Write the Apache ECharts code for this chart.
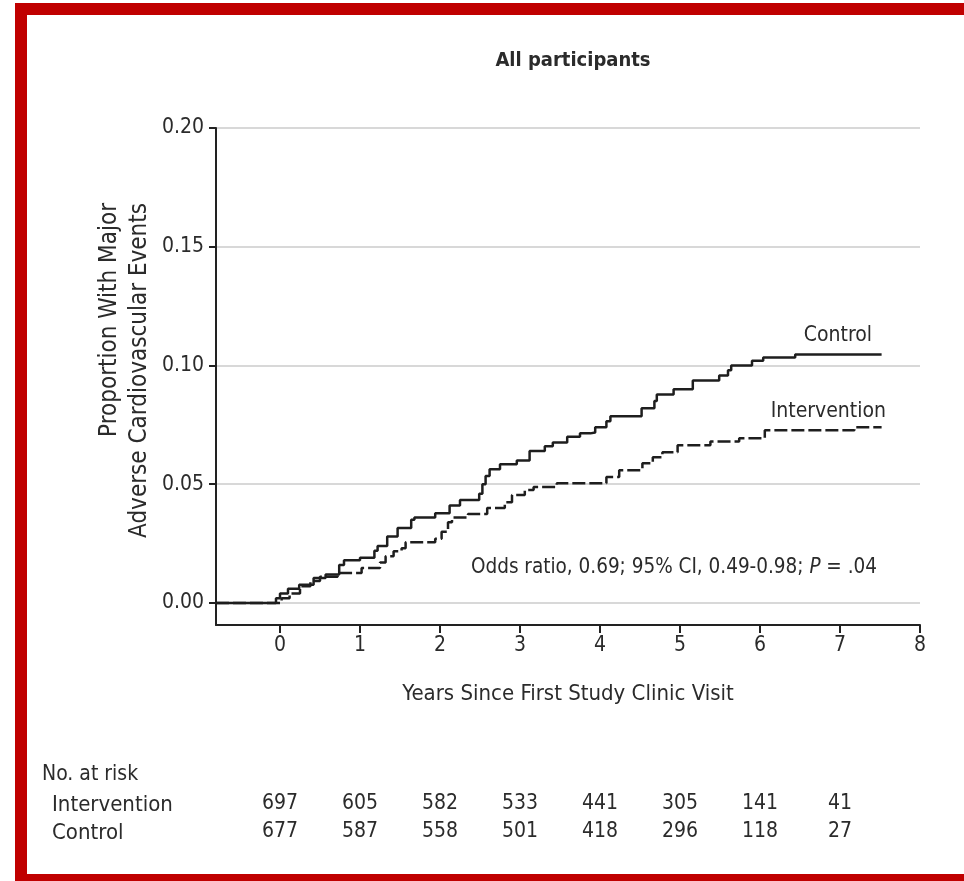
<!DOCTYPE html>
<html>
<head>
<meta charset="utf-8">
<script src="https://cdn.jsdelivr.net/npm/echarts@6/dist/echarts.min.js"></script>
<style>
html,body{margin:0;padding:0;background:#fff;}
#chart{width:964px;height:881px;}
</style>
</head>
<body>
<div id="chart"></div>
<script>
// ---- data ----
const title = "All participants";
const xTickValues = [0, 1, 2, 3, 4, 5, 6, 7, 8];
const yTickValues = [0, 0.05, 0.10, 0.15, 0.20];
const riskYears = [0, 1, 2, 3, 4, 5, 6, 7];
const riskIntervention = [697, 605, 582, 533, 441, 305, 141, 41];
const riskControl = [677, 587, 558, 501, 418, 296, 118, 27];
// step curves: [years, proportion], value holds until next point
const controlCurve = [
  [-0.8, 0], [-0.05, 0.002], [0.0, 0.004], [0.1, 0.006], [0.24, 0.0076], [0.42, 0.0105],
  [0.57, 0.012], [0.74, 0.016], [0.8, 0.018], [1.0, 0.019], [1.18, 0.022], [1.22, 0.024],
  [1.34, 0.028], [1.47, 0.0315], [1.64, 0.035], [1.68, 0.036], [1.94, 0.0378], [2.12, 0.041],
  [2.25, 0.0433], [2.49, 0.046], [2.53, 0.050], [2.57, 0.0535], [2.62, 0.0563], [2.75, 0.0584],
  [2.96, 0.060], [3.12, 0.064], [3.31, 0.066], [3.41, 0.0676], [3.59, 0.070], [3.75, 0.0714],
  [3.88, 0.0718], [3.94, 0.074], [4.08, 0.0765], [4.13, 0.0786], [4.52, 0.082], [4.68, 0.085],
  [4.71, 0.0878], [4.92, 0.090], [5.16, 0.0937], [5.49, 0.0958], [5.6, 0.098], [5.64, 0.100],
  [5.9, 0.102], [6.04, 0.1034], [6.44, 0.1046], [7.52, 0.1046]
];
const interventionCurve = [
  [-0.8, 0], [0.02, 0.002], [0.12, 0.004], [0.25, 0.007], [0.38, 0.0092], [0.5, 0.011],
  [0.72, 0.0126], [1.02, 0.0147], [1.25, 0.017], [1.32, 0.0197], [1.42, 0.0218], [1.52, 0.023],
  [1.57, 0.0256], [1.94, 0.027], [2.02, 0.030], [2.1, 0.034], [2.15, 0.036], [2.35, 0.0374],
  [2.59, 0.040], [2.81, 0.0424], [2.9, 0.0454], [3.06, 0.0475], [3.17, 0.0488], [3.46, 0.0504],
  [4.08, 0.053], [4.24, 0.0559], [4.53, 0.0588], [4.66, 0.0613], [4.78, 0.0634], [4.97, 0.0664],
  [5.38, 0.068], [5.74, 0.0693], [6.06, 0.0727], [7.18, 0.074], [7.52, 0.074]
];

// ---- chart ----
const FONT = "'Liberation Sans Narrow', 'DejaVu Sans Condensed', 'Liberation Sans', sans-serif";
const TXT = '#2b2b2b';
const chart = echarts.init(document.getElementById('chart'), null, {renderer: 'canvas'});

function riskAxis(values, offset) {
  return {
    type: 'value', min: -0.8, max: 8, position: 'bottom', offset: offset,
    axisLine: {show: false}, axisTick: {show: false}, splitLine: {show: false},
    axisLabel: {
      customValues: riskYears, margin: 0,
      fontFamily: FONT, fontSize: 21, color: TXT,
      formatter: v => { const i = riskYears.indexOf(Math.round(v)); return i >= 0 ? String(values[i]) : ''; }
    }
  };
}

const option = {
  backgroundColor: '#fff',
  animation: false,
  title: {
    text: title, left: 568, top: 46, textAlign: 'center',
    textStyle: {fontFamily: FONT, fontSize: 20, fontWeight: 'bold', color: TXT}
  },
  grid: {left: 216, top: 128, right: 44, bottom: 256, containLabel: false},
  xAxis: [
    {
      type: 'value', min: -0.8, max: 8,
      name: 'Years Since First Study Clinic Visit', nameLocation: 'middle', nameGap: 58,
      nameTextStyle: {fontFamily: FONT, fontSize: 22, color: TXT},
      axisLine: {show: true, onZero: false, lineStyle: {color: '#222', width: 2}},
      axisTick: {show: true, customValues: xTickValues, length: 8, lineStyle: {color: '#222', width: 2}},
      axisLabel: {customValues: xTickValues, margin: 10, fontFamily: FONT, fontSize: 21, color: TXT},
      splitLine: {show: false}
    },
    riskAxis(riskIntervention, 168),
    riskAxis(riskControl, 196)
  ],
  yAxis: {
    type: 'value', min: -0.0093, max: 0.2,
    axisLine: {show: true, onZero: false, lineStyle: {color: '#222', width: 2}},
    axisTick: {show: true, customValues: yTickValues, length: 7, lineStyle: {color: '#222', width: 2}},
    axisLabel: {customValues: yTickValues, margin: 12, fontFamily: FONT, fontSize: 21, color: TXT,
      formatter: v => v.toFixed(2)},
    splitLine: {show: true, lineStyle: {color: '#d8d8d8', width: 2}}
  },
  series: [
    {
      name: 'Control', type: 'line', step: 'end', data: controlCurve,
      showSymbol: false, symbol: 'none', silent: true,
      lineStyle: {color: '#1e1e1e', width: 2.5}
    },
    {
      name: 'Intervention', type: 'line', step: 'end', data: interventionCurve,
      showSymbol: false, symbol: 'none', silent: true,
      lineStyle: {color: '#1e1e1e', width: 2.5, type: [13, 4]}
    }
  ],
  graphic: [
    {type: 'rect', shape: {x: 15, y: 3, width: 949, height: 12}, style: {fill: '#c00000'}, silent: true},
    {type: 'rect', shape: {x: 15, y: 3, width: 12, height: 878}, style: {fill: '#c00000'}, silent: true},
    {type: 'rect', shape: {x: 15, y: 874, width: 949, height: 7}, style: {fill: '#c00000'}, silent: true},
    {
      type: 'text', x: 125, y: 203, rotation: Math.PI / 2,
      style: {text: 'Proportion With Major\nAdverse Cardiovascular Events', fill: TXT,
        font: '24px ' + FONT, align: 'right', verticalAlign: 'middle', lineHeight: 30}
    },
    {
      type: 'text', x: 872, y: 336,
      style: {text: 'Control', fill: TXT, font: '21px ' + FONT, align: 'right', verticalAlign: 'middle'}
    },
    {
      type: 'text', x: 886, y: 412,
      style: {text: 'Intervention', fill: TXT, font: '21px ' + FONT, align: 'right', verticalAlign: 'middle'}
    },
    {
      type: 'text', x: 877, y: 568,
      style: {
        text: '{a|Odds ratio, 0.69; 95% CI, 0.49-0.98; }{i|P}{a| = .04}',
        align: 'right', verticalAlign: 'middle',
        rich: {
          a: {fontFamily: FONT, fontSize: 20.5, fill: TXT, color: TXT},
          i: {fontFamily: FONT, fontSize: 20.5, fontStyle: 'italic', fill: TXT, color: TXT}
        }
      }
    },
    {type: 'text', x: 42, y: 775, style: {text: 'No. at risk', fill: TXT, font: '21px ' + FONT, verticalAlign: 'middle'}},
    {type: 'text', x: 52, y: 805, style: {text: 'Intervention', fill: TXT, font: '22px ' + FONT, verticalAlign: 'middle'}},
    {type: 'text', x: 52, y: 833, style: {text: 'Control', fill: TXT, font: '22px ' + FONT, verticalAlign: 'middle'}}
  ]
};
chart.setOption(option);
</script>
</body>
</html>
